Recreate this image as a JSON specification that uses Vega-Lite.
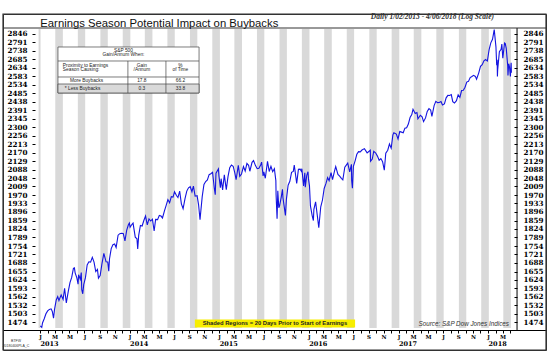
{
  "$schema": "https://vega.github.io/schema/vega-lite/v6.json",
  "width": 543,
  "height": 336,
  "autosize": {"type": "none"},
  "padding": {"left": 3, "top": 14, "right": 4, "bottom": 3},
  "background": "white",
  "config": {"view": {"stroke": "#333", "strokeWidth": 1}, "axis": {"grid": false}},
  "data": {"values": [{}]},
  "datasets": {
    "spx": [
      {"date":"2013-01-02","close":1462},{"date":"2013-01-08","close":1457},{"date":"2013-01-11","close":1472},{"date":"2013-01-18","close":1486},{"date":"2013-01-25","close":1503},{"date":"2013-02-01","close":1513},{"date":"2013-02-08","close":1518},{"date":"2013-02-15","close":1520},{"date":"2013-02-20","close":1511},{"date":"2013-02-25","close":1488},{"date":"2013-03-01","close":1518},{"date":"2013-03-08","close":1551},{"date":"2013-03-14","close":1563},{"date":"2013-03-19","close":1549},{"date":"2013-03-22","close":1556},{"date":"2013-03-28","close":1569},{"date":"2013-04-05","close":1553},{"date":"2013-04-11","close":1593},{"date":"2013-04-18","close":1541},{"date":"2013-04-26","close":1582},{"date":"2013-05-03","close":1614},{"date":"2013-05-10","close":1633},{"date":"2013-05-17","close":1667},{"date":"2013-05-21","close":1669},{"date":"2013-05-24","close":1650},{"date":"2013-05-31","close":1631},{"date":"2013-06-05","close":1608},{"date":"2013-06-07","close":1643},{"date":"2013-06-14","close":1626},{"date":"2013-06-18","close":1651},{"date":"2013-06-20","close":1588},{"date":"2013-06-24","close":1573},{"date":"2013-06-28","close":1606},{"date":"2013-07-05","close":1632},{"date":"2013-07-12","close":1680},{"date":"2013-07-19","close":1692},{"date":"2013-07-26","close":1691},{"date":"2013-08-02","close":1709},{"date":"2013-08-09","close":1691},{"date":"2013-08-16","close":1655},{"date":"2013-08-23","close":1663},{"date":"2013-08-27","close":1630},{"date":"2013-09-03","close":1640},{"date":"2013-09-10","close":1683},{"date":"2013-09-18","close":1725},{"date":"2013-09-27","close":1692},{"date":"2013-10-04","close":1691},{"date":"2013-10-08","close":1656},{"date":"2013-10-11","close":1703},{"date":"2013-10-18","close":1744},{"date":"2013-10-25","close":1759},{"date":"2013-11-01","close":1762},{"date":"2013-11-07","close":1748},{"date":"2013-11-15","close":1798},{"date":"2013-11-22","close":1804},{"date":"2013-11-29","close":1806},{"date":"2013-12-06","close":1805},{"date":"2013-12-13","close":1775},{"date":"2013-12-20","close":1818},{"date":"2013-12-27","close":1841},{"date":"2013-12-31","close":1848},
      {"date":"2014-01-03","close":1831},{"date":"2014-01-10","close":1842},{"date":"2014-01-15","close":1848},{"date":"2014-01-24","close":1790},{"date":"2014-01-31","close":1783},{"date":"2014-02-03","close":1742},{"date":"2014-02-07","close":1797},{"date":"2014-02-14","close":1838},{"date":"2014-02-21","close":1836},{"date":"2014-02-28","close":1859},{"date":"2014-03-07","close":1878},{"date":"2014-03-14","close":1841},{"date":"2014-03-21","close":1866},{"date":"2014-03-28","close":1857},{"date":"2014-04-04","close":1865},{"date":"2014-04-11","close":1815},{"date":"2014-04-17","close":1864},{"date":"2014-04-25","close":1863},{"date":"2014-05-02","close":1881},{"date":"2014-05-09","close":1878},{"date":"2014-05-15","close":1870},{"date":"2014-05-23","close":1900},{"date":"2014-05-30","close":1924},{"date":"2014-06-06","close":1950},{"date":"2014-06-13","close":1936},{"date":"2014-06-20","close":1963},{"date":"2014-06-27","close":1961},{"date":"2014-07-03","close":1985},{"date":"2014-07-11","close":1968},{"date":"2014-07-17","close":1959},{"date":"2014-07-24","close":1988},{"date":"2014-07-31","close":1931},{"date":"2014-08-07","close":1910},{"date":"2014-08-15","close":1955},{"date":"2014-08-22","close":1988},{"date":"2014-08-29","close":2003},{"date":"2014-09-05","close":2008},{"date":"2014-09-12","close":1985},{"date":"2014-09-18","close":2011},{"date":"2014-09-25","close":1965},{"date":"2014-10-03","close":1967},{"date":"2014-10-09","close":1928},{"date":"2014-10-15","close":1862},{"date":"2014-10-17","close":1886},{"date":"2014-10-24","close":1964},{"date":"2014-10-31","close":2018},{"date":"2014-11-07","close":2032},{"date":"2014-11-14","close":2039},{"date":"2014-11-21","close":2064},{"date":"2014-11-28","close":2068},{"date":"2014-12-05","close":2075},{"date":"2014-12-12","close":2002},{"date":"2014-12-16","close":1972},{"date":"2014-12-19","close":2071},{"date":"2014-12-29","close":2091},{"date":"2014-12-31","close":2059},
      {"date":"2015-01-06","close":2003},{"date":"2015-01-09","close":2045},{"date":"2015-01-15","close":1993},{"date":"2015-01-22","close":2063},{"date":"2015-01-30","close":1995},{"date":"2015-02-06","close":2055},{"date":"2015-02-13","close":2097},{"date":"2015-02-20","close":2110},{"date":"2015-02-27","close":2104},{"date":"2015-03-06","close":2071},{"date":"2015-03-11","close":2040},{"date":"2015-03-20","close":2108},{"date":"2015-03-26","close":2056},{"date":"2015-04-02","close":2067},{"date":"2015-04-10","close":2102},{"date":"2015-04-17","close":2081},{"date":"2015-04-24","close":2117},{"date":"2015-05-01","close":2108},{"date":"2015-05-06","close":2080},{"date":"2015-05-15","close":2123},{"date":"2015-05-21","close":2131},{"date":"2015-05-29","close":2107},{"date":"2015-06-05","close":2092},{"date":"2015-06-12","close":2094},{"date":"2015-06-19","close":2110},{"date":"2015-06-23","close":2124},{"date":"2015-06-29","close":2058},{"date":"2015-07-02","close":2077},{"date":"2015-07-08","close":2047},{"date":"2015-07-17","close":2127},{"date":"2015-07-24","close":2079},{"date":"2015-07-31","close":2104},{"date":"2015-08-07","close":2078},{"date":"2015-08-14","close":2092},{"date":"2015-08-20","close":2036},{"date":"2015-08-21","close":1971},{"date":"2015-08-25","close":1867},{"date":"2015-08-28","close":1989},{"date":"2015-09-01","close":1914},{"date":"2015-09-04","close":1921},{"date":"2015-09-11","close":1961},{"date":"2015-09-16","close":1996},{"date":"2015-09-18","close":1958},{"date":"2015-09-28","close":1881},{"date":"2015-10-02","close":1951},{"date":"2015-10-09","close":2015},{"date":"2015-10-16","close":2033},{"date":"2015-10-23","close":2075},{"date":"2015-10-30","close":2079},{"date":"2015-11-03","close":2109},{"date":"2015-11-13","close":2023},{"date":"2015-11-20","close":2089},{"date":"2015-11-27","close":2090},{"date":"2015-12-02","close":2080},{"date":"2015-12-04","close":2092},{"date":"2015-12-11","close":2012},{"date":"2015-12-16","close":2073},{"date":"2015-12-18","close":2006},{"date":"2015-12-24","close":2061},{"date":"2015-12-29","close":2078},{"date":"2015-12-31","close":2044},
      {"date":"2016-01-04","close":2012},{"date":"2016-01-08","close":1922},{"date":"2016-01-15","close":1880},{"date":"2016-01-20","close":1859},{"date":"2016-01-22","close":1907},{"date":"2016-01-29","close":1940},{"date":"2016-02-05","close":1880},{"date":"2016-02-11","close":1829},{"date":"2016-02-19","close":1918},{"date":"2016-02-26","close":1948},{"date":"2016-03-04","close":2000},{"date":"2016-03-11","close":2022},{"date":"2016-03-18","close":2050},{"date":"2016-03-24","close":2036},{"date":"2016-04-01","close":2073},{"date":"2016-04-07","close":2041},{"date":"2016-04-15","close":2081},{"date":"2016-04-20","close":2102},{"date":"2016-04-29","close":2065},{"date":"2016-05-06","close":2057},{"date":"2016-05-13","close":2047},{"date":"2016-05-19","close":2040},{"date":"2016-05-27","close":2099},{"date":"2016-06-08","close":2119},{"date":"2016-06-16","close":2077},{"date":"2016-06-23","close":2113},{"date":"2016-06-24","close":2037},{"date":"2016-06-27","close":2001},{"date":"2016-07-01","close":2103},{"date":"2016-07-08","close":2130},{"date":"2016-07-15","close":2162},{"date":"2016-07-22","close":2175},{"date":"2016-07-29","close":2174},{"date":"2016-08-05","close":2183},{"date":"2016-08-15","close":2190},{"date":"2016-08-26","close":2169},{"date":"2016-09-08","close":2182},{"date":"2016-09-09","close":2128},{"date":"2016-09-16","close":2139},{"date":"2016-09-22","close":2177},{"date":"2016-09-30","close":2168},{"date":"2016-10-07","close":2153},{"date":"2016-10-14","close":2133},{"date":"2016-10-21","close":2141},{"date":"2016-10-28","close":2126},{"date":"2016-11-04","close":2085},{"date":"2016-11-10","close":2167},{"date":"2016-11-18","close":2182},{"date":"2016-11-25","close":2213},{"date":"2016-12-02","close":2192},{"date":"2016-12-09","close":2260},{"date":"2016-12-13","close":2271},{"date":"2016-12-23","close":2264},{"date":"2016-12-30","close":2239},
      {"date":"2017-01-06","close":2277},{"date":"2017-01-13","close":2274},{"date":"2017-01-20","close":2271},{"date":"2017-01-27","close":2295},{"date":"2017-02-03","close":2297},{"date":"2017-02-10","close":2316},{"date":"2017-02-17","close":2351},{"date":"2017-02-24","close":2367},{"date":"2017-03-01","close":2396},{"date":"2017-03-10","close":2373},{"date":"2017-03-17","close":2378},{"date":"2017-03-21","close":2344},{"date":"2017-03-31","close":2363},{"date":"2017-04-07","close":2355},{"date":"2017-04-13","close":2329},{"date":"2017-04-21","close":2349},{"date":"2017-04-28","close":2384},{"date":"2017-05-05","close":2399},{"date":"2017-05-12","close":2391},{"date":"2017-05-17","close":2357},{"date":"2017-05-26","close":2416},{"date":"2017-06-02","close":2439},{"date":"2017-06-09","close":2432},{"date":"2017-06-16","close":2433},{"date":"2017-06-23","close":2438},{"date":"2017-06-29","close":2419},{"date":"2017-07-07","close":2425},{"date":"2017-07-14","close":2459},{"date":"2017-07-21","close":2473},{"date":"2017-07-28","close":2472},{"date":"2017-08-04","close":2477},{"date":"2017-08-10","close":2438},{"date":"2017-08-17","close":2430},{"date":"2017-08-25","close":2443},{"date":"2017-09-01","close":2476},{"date":"2017-09-08","close":2461},{"date":"2017-09-15","close":2500},{"date":"2017-09-22","close":2502},{"date":"2017-09-29","close":2519},{"date":"2017-10-06","close":2549},{"date":"2017-10-13","close":2553},{"date":"2017-10-20","close":2575},{"date":"2017-10-27","close":2581},{"date":"2017-11-03","close":2588},{"date":"2017-11-10","close":2582},{"date":"2017-11-15","close":2565},{"date":"2017-11-24","close":2603},{"date":"2017-12-01","close":2642},{"date":"2017-12-08","close":2652},{"date":"2017-12-15","close":2675},{"date":"2017-12-22","close":2683},{"date":"2017-12-29","close":2674},
      {"date":"2018-01-05","close":2743},{"date":"2018-01-12","close":2787},{"date":"2018-01-19","close":2810},{"date":"2018-01-26","close":2873},{"date":"2018-02-02","close":2762},{"date":"2018-02-05","close":2649},{"date":"2018-02-07","close":2682},{"date":"2018-02-08","close":2581},{"date":"2018-02-09","close":2620},{"date":"2018-02-16","close":2732},{"date":"2018-02-23","close":2747},{"date":"2018-02-26","close":2780},{"date":"2018-03-02","close":2691},{"date":"2018-03-09","close":2786},{"date":"2018-03-12","close":2783},{"date":"2018-03-16","close":2752},{"date":"2018-03-22","close":2644},{"date":"2018-03-23","close":2588},{"date":"2018-03-26","close":2658},{"date":"2018-03-29","close":2641},{"date":"2018-04-02","close":2582},{"date":"2018-04-04","close":2644},{"date":"2018-04-05","close":2663},{"date":"2018-04-06","close":2604}
    ],
    "shades": [
      {"start":"2012-12-26","end":"2013-01-03"},
      {"start":"2013-03-04","end":"2013-04-04"},{"start":"2013-06-04","end":"2013-07-04"},{"start":"2013-09-04","end":"2013-10-04"},{"start":"2013-12-04","end":"2014-01-04"},
      {"start":"2014-03-04","end":"2014-04-04"},{"start":"2014-06-04","end":"2014-07-04"},{"start":"2014-09-04","end":"2014-10-04"},{"start":"2014-12-04","end":"2015-01-04"},
      {"start":"2015-03-04","end":"2015-04-04"},{"start":"2015-06-04","end":"2015-07-04"},{"start":"2015-09-04","end":"2015-10-04"},{"start":"2015-12-04","end":"2016-01-04"},
      {"start":"2016-03-04","end":"2016-04-04"},{"start":"2016-06-04","end":"2016-07-04"},{"start":"2016-09-04","end":"2016-10-04"},{"start":"2016-12-04","end":"2017-01-04"},
      {"start":"2017-03-04","end":"2017-04-04"},{"start":"2017-06-04","end":"2017-07-04"},{"start":"2017-09-04","end":"2017-10-04"},{"start":"2017-12-04","end":"2018-01-04"},
      {"start":"2018-03-04","end":"2018-04-04"}
    ]
  },
  "layer": [
    {
      "data": {"name": "shades"},
      "mark": {"type": "rect", "color": "#d9d9d9"},
      "encoding": {
        "x": {"field": "start", "type": "temporal", "axis": null},
        "x2": {"field": "end"},
        "y": {"datum": 2876.6, "type": "quantitative", "axis": null},
        "y2": {"datum": 1455.1}
      }
    },
    {
      "data": {"name": "spx"},
      "mark": {"type": "line", "color": "#1414e0", "strokeWidth": 1.1},
      "encoding": {
        "x": {"field": "date", "type": "temporal",
          "scale": {"domain": [{"year": 2012, "month": 8, "date": 3}, {"year": 2018, "month": 8, "date": 25}], "nice": false},
          "axis": {"orient": "bottom", "offset": -20, "title": null, "tickCount": {"interval": "month", "step": 1},
            "labelExpr": "(month(datum.value) % 2 == 0 && datum.value >= datetime(2013,0,1) && datum.value <= datetime(2018,3,30)) ? slice(timeFormat(datum.value, '%b'), 0, 1) : ''",
            "tickOpacity": {"condition": {"test": "datum.value < datetime(2013,0,1) || datum.value > datetime(2018,3,30)", "value": 0}, "value": 1},
            "tickSize": 3, "tickColor": "#000", "domainColor": "#000", "labelColor": "#000",
            "labelFont": "DejaVu Serif", "labelFontWeight": "bold", "labelFontSize": 5.5, "labelPadding": 1.5,
            "labelOverlap": false, "labelFlush": false, "labelBound": false}
        },
        "y": {"field": "close", "type": "quantitative",
          "scale": {"type": "log", "domain": [1383.9, 2976.7], "nice": false, "zero": false},
          "axis": {"orient": "left", "offset": -32, "title": null,
            "values": [1474,1503,1532,1562,1593,1624,1655,1688,1721,1754,1789,1824,1859,1896,1933,1970,2009,2048,2088,2129,2170,2213,2256,2300,2345,2391,2438,2485,2534,2583,2634,2685,2738,2791,2846],
            "format": "d", "domain": false, "tickSize": 3, "tickColor": "#000", "labelPadding": 5, "labelColor": "#000",
            "labelFont": "DejaVu Serif", "labelFontWeight": "bold", "labelFontSize": 7.2,
            "labelOverlap": false, "labelFlush": false, "labelBound": false}
        }
      }
    },
    {
      "mark": {"type": "rule", "color": "#000", "strokeWidth": 1},
      "encoding": {
        "x": {"datum": {"year": 2018, "month": 4, "date": 29}, "type": "temporal",
          "axis": {"orient": "bottom", "offset": -20, "title": null, "tickCount": {"interval": "year", "step": 1},
            "labelExpr": "(year(datum.value) >= 2013 && year(datum.value) <= 2018) ? timeFormat(datum.value, '%Y') : ''",
            "ticks": false, "domain": false, "labelAlign": "left", "labelPadding": 10, "labelColor": "#000",
            "labelFont": "DejaVu Serif", "labelFontWeight": "bold", "labelFontSize": 6.5,
            "labelOverlap": false, "labelFlush": false, "labelBound": false}
        },
        "y": {"datum": 2883.2, "type": "quantitative",
          "axis": {"orient": "right", "offset": -29, "title": null,
            "values": [1474,1503,1532,1562,1593,1624,1655,1688,1721,1754,1789,1824,1859,1896,1933,1970,2009,2048,2088,2129,2170,2213,2256,2300,2345,2391,2438,2485,2534,2583,2634,2685,2738,2791,2846],
            "format": "d", "domain": false, "tickSize": -3, "tickColor": "#000", "labelPadding": 9, "labelColor": "#000",
            "labelFont": "DejaVu Serif", "labelFontWeight": "bold", "labelFontSize": 7.2,
            "labelOverlap": false, "labelFlush": false, "labelBound": false}
        },
        "y2": {"datum": 1448.5}
      }
    },
    {
      "mark": {"type": "rule", "color": "#333", "strokeWidth": 1},
      "encoding": {"y": {"datum": 2883.2, "type": "quantitative", "axis": null}}
    },
    {
      "mark": {"type": "rect", "fill": "transparent", "stroke": "#333", "strokeWidth": 1.2},
      "encoding": {}
    },
    {
      "mark": {"type": "text", "text": "Earnings Season Potential Impact on Buybacks", "align": "left", "baseline": "middle", "font": "Liberation Sans", "fontSize": 11.3, "color": "#111"},
      "encoding": {"x": {"datum": {"year": 2013, "month": 1, "date": 2}, "type": "temporal", "axis": null}, "y": {"datum": 2912.9, "type": "quantitative", "axis": null}}
    },
    {
      "mark": {"type": "rect", "fill": "white", "stroke": "#444", "strokeWidth": 0.7},
      "encoding": {
        "x": {"datum": {"year": 2013, "month": 3, "date": 15}, "type": "temporal", "axis": null},
        "x2": {"datum": {"year": 2014, "month": 10, "date": 11}},
        "y": {"datum": 2761, "type": "quantitative", "axis": null},
        "y2": {"datum": 2486.2}
      }
    },
    {
      "mark": {"type": "rect", "fill": "#d9d9d9", "stroke": "#444", "strokeWidth": 0.7},
      "encoding": {
        "x": {"datum": {"year": 2013, "month": 3, "date": 15}, "type": "temporal", "axis": null},
        "x2": {"datum": {"year": 2014, "month": 10, "date": 11}},
        "y": {"datum": 2537.7, "type": "quantitative", "axis": null},
        "y2": {"datum": 2486.2}
      }
    },
    {
      "mark": {"type": "rule", "color": "#444", "strokeWidth": 0.7},
      "encoding": {
        "x": {"datum": {"year": 2013, "month": 3, "date": 15}, "type": "temporal", "axis": null},
        "x2": {"datum": {"year": 2014, "month": 10, "date": 11}},
        "y": {"datum": 2674.3, "type": "quantitative", "axis": null}
      }
    },
    {
      "mark": {"type": "rule", "color": "#444", "strokeWidth": 0.7},
      "encoding": {
        "x": {"datum": {"year": 2013, "month": 3, "date": 15}, "type": "temporal", "axis": null},
        "x2": {"datum": {"year": 2014, "month": 10, "date": 11}},
        "y": {"datum": 2578.5, "type": "quantitative", "axis": null}
      }
    },
    {
      "mark": {"type": "rule", "color": "#444", "strokeWidth": 0.7},
      "encoding": {
        "x": {"datum": {"year": 2013, "month": 12, "date": 25}, "type": "temporal", "axis": null},
        "y": {"datum": 2674.3, "type": "quantitative", "axis": null},
        "y2": {"datum": 2486.2}
      }
    },
    {
      "mark": {"type": "rule", "color": "#444", "strokeWidth": 0.7},
      "encoding": {
        "x": {"datum": {"year": 2014, "month": 5, "date": 29}, "type": "temporal", "axis": null},
        "y": {"datum": 2674.3, "type": "quantitative", "axis": null},
        "y2": {"datum": 2486.2}
      }
    },
    {
      "mark": {"type": "text", "text": "S&P 500", "align": "center", "baseline": "middle", "font": "Liberation Sans", "fontSize": 4.8, "color": "#222"},
      "encoding": {"x": {"datum": {"year": 2013, "month": 12, "date": 7}, "type": "temporal", "axis": null}, "y": {"datum": 2736, "type": "quantitative", "axis": null}}
    },
    {
      "mark": {"type": "text", "text": "Gain/Annum When:", "align": "center", "baseline": "middle", "font": "Liberation Sans", "fontSize": 4.8, "color": "#222"},
      "encoding": {"x": {"datum": {"year": 2013, "month": 12, "date": 7}, "type": "temporal", "axis": null}, "y": {"datum": 2711.1, "type": "quantitative", "axis": null}}
    },
    {
      "mark": {"type": "text", "text": "Proximity to Earnings", "align": "left", "baseline": "middle", "font": "Liberation Sans", "fontSize": 4.8, "color": "#222"},
      "encoding": {"x": {"datum": {"year": 2013, "month": 4, "date": 4}, "type": "temporal", "axis": null}, "y": {"datum": 2641, "type": "quantitative", "axis": null}}
    },
    {
      "mark": {"type": "text", "text": "Season Causing:", "align": "left", "baseline": "middle", "font": "Liberation Sans", "fontSize": 4.8, "color": "#222"},
      "encoding": {"x": {"datum": {"year": 2013, "month": 4, "date": 4}, "type": "temporal", "axis": null}, "y": {"datum": 2617, "type": "quantitative", "axis": null}}
    },
    {
      "mark": {"type": "text", "text": "Gain", "align": "center", "baseline": "middle", "font": "Liberation Sans", "fontSize": 4.8, "color": "#222"},
      "encoding": {"x": {"datum": {"year": 2014, "month": 2, "date": 20}, "type": "temporal", "axis": null}, "y": {"datum": 2641, "type": "quantitative", "axis": null}}
    },
    {
      "mark": {"type": "text", "text": "/Annum", "align": "center", "baseline": "middle", "font": "Liberation Sans", "fontSize": 4.8, "color": "#222"},
      "encoding": {"x": {"datum": {"year": 2014, "month": 2, "date": 20}, "type": "temporal", "axis": null}, "y": {"datum": 2617, "type": "quantitative", "axis": null}}
    },
    {
      "mark": {"type": "text", "text": "%", "align": "center", "baseline": "middle", "font": "Liberation Sans", "fontSize": 4.8, "color": "#222"},
      "encoding": {"x": {"datum": {"year": 2014, "month": 7, "date": 27}, "type": "temporal", "axis": null}, "y": {"datum": 2641, "type": "quantitative", "axis": null}}
    },
    {
      "mark": {"type": "text", "text": "of Time", "align": "center", "baseline": "middle", "font": "Liberation Sans", "fontSize": 4.8, "color": "#222"},
      "encoding": {"x": {"datum": {"year": 2014, "month": 7, "date": 27}, "type": "temporal", "axis": null}, "y": {"datum": 2617, "type": "quantitative", "axis": null}}
    },
    {
      "mark": {"type": "text", "text": "More Buybacks", "align": "left", "baseline": "middle", "font": "Liberation Sans", "fontSize": 4.8, "color": "#222"},
      "encoding": {"x": {"datum": {"year": 2013, "month": 5, "date": 3}, "type": "temporal", "axis": null}, "y": {"datum": 2556.9, "type": "quantitative", "axis": null}}
    },
    {
      "mark": {"type": "text", "text": "17.8", "align": "center", "baseline": "middle", "font": "Liberation Sans", "fontSize": 4.8, "color": "#222"},
      "encoding": {"x": {"datum": {"year": 2014, "month": 2, "date": 20}, "type": "temporal", "axis": null}, "y": {"datum": 2556.9, "type": "quantitative", "axis": null}}
    },
    {
      "mark": {"type": "text", "text": "66.2", "align": "center", "baseline": "middle", "font": "Liberation Sans", "fontSize": 4.8, "color": "#222"},
      "encoding": {"x": {"datum": {"year": 2014, "month": 7, "date": 27}, "type": "temporal", "axis": null}, "y": {"datum": 2556.9, "type": "quantitative", "axis": null}}
    },
    {
      "mark": {"type": "text", "text": "* Less Buybacks", "align": "left", "baseline": "middle", "font": "Liberation Sans", "fontSize": 4.8, "color": "#222"},
      "encoding": {"x": {"datum": {"year": 2013, "month": 4, "date": 12}, "type": "temporal", "axis": null}, "y": {"datum": 2510.6, "type": "quantitative", "axis": null}}
    },
    {
      "mark": {"type": "text", "text": "0.3", "align": "center", "baseline": "middle", "font": "Liberation Sans", "fontSize": 4.8, "color": "#222"},
      "encoding": {"x": {"datum": {"year": 2014, "month": 2, "date": 20}, "type": "temporal", "axis": null}, "y": {"datum": 2510.6, "type": "quantitative", "axis": null}}
    },
    {
      "mark": {"type": "text", "text": "33.8", "align": "center", "baseline": "middle", "font": "Liberation Sans", "fontSize": 4.8, "color": "#222"},
      "encoding": {"x": {"datum": {"year": 2014, "month": 7, "date": 27}, "type": "temporal", "axis": null}, "y": {"datum": 2510.6, "type": "quantitative", "axis": null}}
    },
    {
      "mark": {"type": "text", "text": "Daily 1/02/2013 - 4/06/2018 (Log Scale)", "align": "right", "baseline": "middle", "font": "Liberation Serif", "fontStyle": "italic", "fontWeight": "bold", "fontSize": 7.5, "color": "#333"},
      "encoding": {"x": {"datum": {"year": 2018, "month": 1, "date": 25}, "type": "temporal", "axis": null}, "y": {"datum": 2956.4, "type": "quantitative", "axis": null}}
    },
    {
      "mark": {"type": "rect", "fill": "#f7ee00"},
      "encoding": {
        "x": {"datum": {"year": 2014, "month": 9, "date": 24}, "type": "temporal", "axis": null},
        "x2": {"datum": {"year": 2016, "month": 7, "date": 8}},
        "y": {"datum": 1483.5, "type": "quantitative", "axis": null},
        "y2": {"datum": 1456.7}
      }
    },
    {
      "mark": {"type": "text", "text": "Shaded Regions = 20 Days Prior to Start of Earnings", "align": "center", "baseline": "middle", "font": "Liberation Sans", "fontWeight": "bold", "fontSize": 5.8, "color": "#222"},
      "encoding": {"x": {"datum": {"year": 2015, "month": 8, "date": 16}, "type": "temporal", "axis": null}, "y": {"datum": 1470.1, "type": "quantitative", "axis": null}}
    },
    {
      "mark": {"type": "text", "text": "Source: S&P Dow Jones Indices", "align": "right", "baseline": "middle", "font": "Liberation Sans", "fontStyle": "italic", "fontSize": 6.3, "color": "#333"},
      "encoding": {"x": {"datum": {"year": 2018, "month": 3, "date": 27}, "type": "temporal", "axis": null}, "y": {"datum": 1468.4, "type": "quantitative", "axis": null}}
    },
    {
      "mark": {"type": "text", "text": "BTFW", "align": "center", "baseline": "middle", "font": "Liberation Sans", "fontSize": 3.5, "color": "#333"},
      "encoding": {"x": {"datum": {"year": 2012, "month": 9, "date": 25}, "type": "temporal", "axis": null}, "y": {"datum": 1412.6, "type": "quantitative", "axis": null}}
    },
    {
      "mark": {"type": "text", "text": "20180406PLA_C", "align": "center", "baseline": "middle", "font": "Liberation Sans", "fontSize": 3.5, "color": "#333"},
      "encoding": {"x": {"datum": {"year": 2012, "month": 9, "date": 25}, "type": "temporal", "axis": null}, "y": {"datum": 1396.6, "type": "quantitative", "axis": null}}
    }
  ],
  "resolve": {"axis": {"x": "independent", "y": "independent"}}
}
